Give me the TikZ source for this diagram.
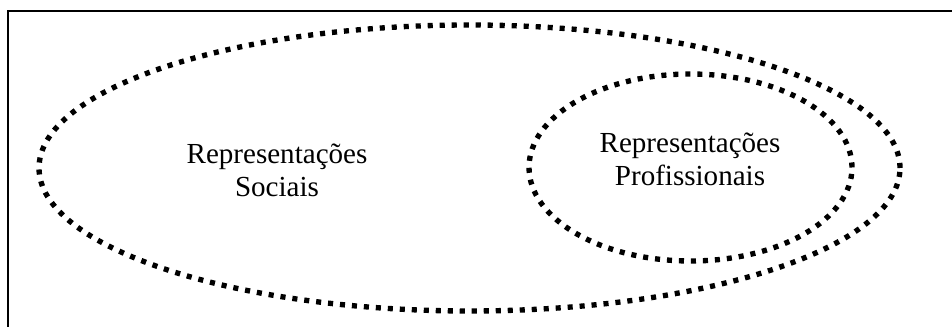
\documentclass[tikz,border=0pt]{standalone}
\usepackage{fontspec}
\setmainfont{Liberation Serif}
\usetikzlibrary{shapes.geometric}
\tikzset{
  dotring/.style={ellipse, draw=black, line width=4pt, dash pattern=on 3.8pt off 5.2pt, inner sep=0pt},
  lbl/.style={align=center, inner sep=0pt, font=\fontsize{21.8pt}{24.75pt}\selectfont},
  frame/.style={draw=black, line width=2pt}
}
\begin{document}
\begin{tikzpicture}[x=0.75pt,y=-0.75pt]
\useasboundingbox (0,0) rectangle (952,327);
\clip (0,0) rectangle (952,327);
\fill[white] (0,0) rectangle (952,327);
\draw[frame] (8,11) rectangle (970,345);
\node[dotring, minimum width=645.75pt, minimum height=214.5pt] (soc) at (469.5,168) {};
\node[dotring, minimum width=242.25pt, minimum height=140.25pt] (prof) at (690.5,167.5) {};
\node[lbl] (tsoc) at (277,170.5) {Representações\\Sociais};
\node[lbl] (tprof) at (690,159.5) {Representações\\Profissionais};
\end{tikzpicture}
\end{document}
